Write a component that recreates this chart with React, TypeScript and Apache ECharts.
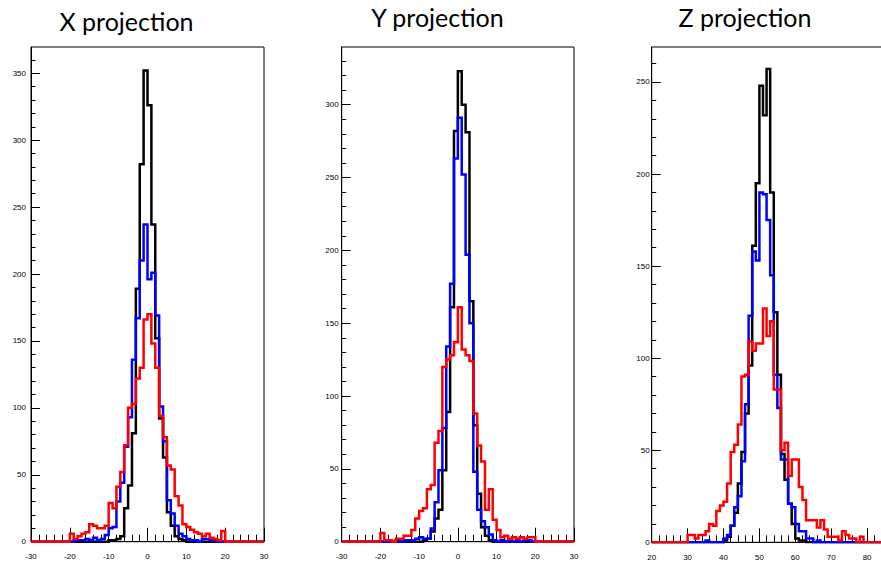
import React, { useEffect, useRef } from "react";
import * as echarts from "echarts";

// ---------- data (bin width 1) ----------
// X projection: bins start at -30
const X_START = -30;
const X_BLACK = [
  0, 0, 0, 0, 0, 0, 0, 0, 0, 0, 0, 0, 0, 0, 0, 0, 0, 0, 0, 0,
  1, 1, 2, 4, 25, 42, 81, 189, 282, 352,
  326, 237, 152, 92, 63, 22, 12, 4, 2, 1,
  0, 0, 0, 0, 0, 0, 0, 0, 0, 0, 0, 0, 0, 0, 0, 0, 0, 0, 0, 0,
];
const X_BLUE = [
  0, 0, 0, 0, 0, 0, 0, 0, 0, 0,
  0, 1, 1, 1, 2, 1, 3, 1, 2, 5,
  10, 11, 30, 44, 71, 93, 136, 167, 210, 237,
  196, 201, 169, 101, 75, 31, 21, 12, 6, 4,
  2, 1, 1, 0, 2, 2, 1, 1, 0, 0,
  0, 0, 0, 0, 0, 0, 0, 0, 0, 0,
];
const X_RED = [
  0, 0, 0, 0, 0, 0, 0, 0, 0, 0,
  6, 2, 4, 6, 7, 13, 12, 10, 10, 12,
  29, 25, 41, 52, 72, 100, 103, 122, 130, 166,
  170, 148, 130, 94, 78, 57, 54, 34, 27, 13,
  11, 9, 7, 6, 4, 6, 3, 2, 1, 8,
  0, 0, 0, 0, 0, 0, 0, 0, 0, 0,
];

// Y projection: bins start at -30
const Y_START = -30;
const Y_BLACK = [
  0, 0, 0, 0, 0, 0, 0, 0, 0, 0, 0, 0, 0, 0, 0, 0, 0, 0, 0, 0,
  0, 1, 2, 7, 16, 22, 49, 89, 161, 282,
  323, 300, 281, 165, 80, 33, 10, 4, 1, 0,
  0, 0, 0, 0, 0, 0, 0, 0, 0, 0, 0, 0, 0, 0, 0, 0, 0, 0, 0, 0,
];
const Y_BLUE = [
  0, 0, 0, 0, 0, 0, 0, 0, 0, 0,
  0, 0, 0, 0, 1, 0, 1, 1, 1, 2,
  3, 2, 2, 9, 27, 49, 78, 134, 177, 263,
  291, 252, 197, 150, 48, 22, 14, 10, 5, 1,
  0, 1, 0, 1, 0, 1, 0, 1, 1, 0,
  0, 0, 0, 0, 0, 0, 0, 0, 0, 0,
];
const Y_RED = [
  0, 0, 0, 0, 0, 0, 0, 0, 0, 0,
  6, 1, 1, 0, 2, 2, 4, 4, 8, 16,
  21, 23, 36, 39, 68, 76, 120, 125, 128, 137,
  161, 132, 128, 124, 88, 66, 55, 22, 36, 15,
  8, 3, 4, 2, 3, 2, 3, 2, 3, 3,
  0, 0, 0, 0, 0, 0, 0, 0, 0, 0,
];

// Z projection: bins start at 20
const Z_START = 20;
const Z_BLACK = [
  0, 0, 0, 0, 0, 0, 0, 0, 0, 0,
  0, 0, 0, 0, 0, 0, 0, 0, 0, 0,
  1, 3, 9, 16, 32, 49, 70, 96, 161, 195,
  248, 232, 257, 190, 125, 91, 48, 34, 21, 10,
  2, 1, 1, 0, 0, 0, 0, 0, 0, 0,
  0, 0, 0, 0, 0, 0, 0, 0, 0, 0,
  0, 0, 0, 0, 0, 0, 0, 0, 0, 0,
];
const Z_BLUE = [
  0, 0, 0, 0, 0, 0, 0, 0, 0, 0,
  0, 0, 0, 0, 0, 1, 0, 0, 0, 0,
  2, 4, 9, 19, 25, 44, 75, 123, 158, 153,
  190, 189, 175, 145, 91, 73, 45, 45, 21, 19,
  10, 6, 6, 2, 2, 0, 1, 0, 0, 0,
  0, 0, 0, 0, 0, 0, 0, 0, 0, 0,
  0, 0, 0, 0, 0, 0, 0, 0, 0, 0,
];
const Z_RED = [
  0, 0, 0, 0, 0, 0, 0, 0, 0, 0,
  4, 4, 2, 4, 4, 6, 10, 9, 17, 20,
  22, 32, 49, 53, 64, 90, 91, 109, 104, 108,
  108, 127, 112, 120, 83, 83, 50, 54, 36, 45,
  45, 30, 23, 12, 12, 12, 8, 12, 7, 3,
  3, 3, 1, 6, 4, 2, 2, 0, 3, 0,
  0, 0, 0, 0, 0, 0, 0, 0, 0, 0,
];

const TITLES = ["X projection", "Y projection", "Z projection"];
const X_RANGES = [[-30, 30], [-30, 30], [20, 90]];
const Y_MAX = [369.6, 339.6, 269];
const Y_MAJOR = [
  [0, 50, 100, 150, 200, 250, 300, 350],
  [0, 50, 100, 150, 200, 250, 300],
  [0, 50, 100, 150, 200, 250],
];
const Y_MINOR = [
  [10, 20, 30, 40, 60, 70, 80, 90, 110, 120, 130, 140, 160, 170, 180, 190, 210, 220, 230, 240, 260, 270, 280, 290, 310, 320, 330, 340, 360],
  [10, 20, 30, 40, 60, 70, 80, 90, 110, 120, 130, 140, 160, 170, 180, 190, 210, 220, 230, 240, 260, 270, 280, 290, 310, 320, 330],
  [10, 20, 30, 40, 60, 70, 80, 90, 110, 120, 130, 140, 160, 170, 180, 190, 210, 220, 230, 240, 260],
];

const PANELS = [
  { start: X_START, black: X_BLACK, blue: X_BLUE, red: X_RED },
  { start: Y_START, black: Y_BLACK, blue: Y_BLUE, red: Y_RED },
  { start: Z_START, black: Z_BLACK, blue: Z_BLUE, red: Z_RED },
];

function stepPoints(start: number, values: number[]) {
  const pts: [number, number][] = [];
  values.forEach((v, i) => {
    pts.push([start + i, v]);
    pts.push([start + i + 1, v]);
  });
  return pts;
}

const GRIDS = [
  { left: 31, top: 47, width: 233, height: 494.7 },
  { left: 341.7, top: 47, width: 232.3, height: 494.7 },
  { left: 651.7, top: 47, width: 251.3, height: 495.3 },
];
const LABEL_MARGIN_Y = [5, 3, 2];
const SHOW_MAX_X_LABEL = [true, true, false];
const TITLE_POS = [
  [126.5, 21],
  [437.5, 17],
  [745, 17],
];

export default function App() {
  const ref = useRef<HTMLDivElement>(null);
  useEffect(() => {
    if (!ref.current) return;
    const chart = echarts.init(ref.current, undefined, { renderer: "svg" });
    const axisFont = { fontSize: 8, color: "#000", fontFamily: "Liberation Sans, Arial, sans-serif" };
    const xAxes: any[] = [];
    const yAxes: any[] = [];
    const series: any[] = [];
    PANELS.forEach((p, k) => {
      xAxes.push({
        type: "value",
        gridIndex: k,
        min: X_RANGES[k][0],
        max: X_RANGES[k][1],
        interval: 10,
        axisLine: { show: true, onZero: false, lineStyle: { color: "#000", width: 1 } },
        axisTick: { show: true, inside: true, length: 14, lineStyle: { color: "#000", width: 1 } },
        minorTick: { show: true, splitNumber: 5, length: 7, lineStyle: { color: "#000", width: 1 } },
        splitLine: { show: false },
        axisLabel: { ...axisFont, margin: 11, interval: 0, showMinLabel: true, showMaxLabel: SHOW_MAX_X_LABEL[k] },
      });
      yAxes.push({
        type: "value",
        gridIndex: k,
        min: 0,
        max: Y_MAX[k],
        axisLine: { show: true, onZero: false, lineStyle: { color: "#000", width: 1 } },
        axisTick: { show: true, inside: true, length: 9, customValues: Y_MAJOR[k], lineStyle: { color: "#000", width: 1 } },
        splitLine: { show: false },
        axisLabel: { ...axisFont, margin: LABEL_MARGIN_Y[k], customValues: Y_MAJOR[k] },
      });
      yAxes.push({
        type: "value",
        gridIndex: k,
        min: 0,
        max: Y_MAX[k],
        position: "left",
        axisLine: { show: false, onZero: false },
        axisTick: { show: true, inside: true, length: 4.5, customValues: Y_MINOR[k], lineStyle: { color: "#000", width: 1 } },
        splitLine: { show: false },
        axisLabel: { show: false },
      });
      const mk = (vals: number[], color: string) => ({
        type: "line",
        xAxisIndex: k,
        yAxisIndex: 2 * k,
        data: stepPoints(p.start, vals),
        showSymbol: false,
        symbol: "none",
        lineStyle: { color, width: 2.5, cap: "butt", join: "miter" },
        itemStyle: { color },
        silent: true,
      });
      series.push(mk(p.black, "#000000"));
      series.push(mk(p.blue, "#0000ff"));
      series.push(mk(p.red, "#ff0000"));
    });
    chart.setOption({
      animation: false,
      backgroundColor: "#ffffff",
      grid: GRIDS.map((g) => ({
        ...g,
        show: true,
        borderColor: "#000",
        borderWidth: 1,
        backgroundColor: "transparent",
        outerBoundsMode: "none",
        containLabel: false,
      })),
      xAxis: xAxes,
      yAxis: yAxes,
      series,
      graphic: TITLES.map((t, k) => ({
        type: "text",
        x: TITLE_POS[k][0],
        y: TITLE_POS[k][1],
        style: {
          text: t,
          fill: "#000",
          font: '25px Lato, "Open Sans", sans-serif',
          textAlign: "center",
          textVerticalAlign: "middle",
        },
      })),
    });
    return () => chart.dispose();
  }, []);
  return <div ref={ref} style={{ position: "absolute", left: 0, top: 0, width: 881, height: 564 }} />;
}
